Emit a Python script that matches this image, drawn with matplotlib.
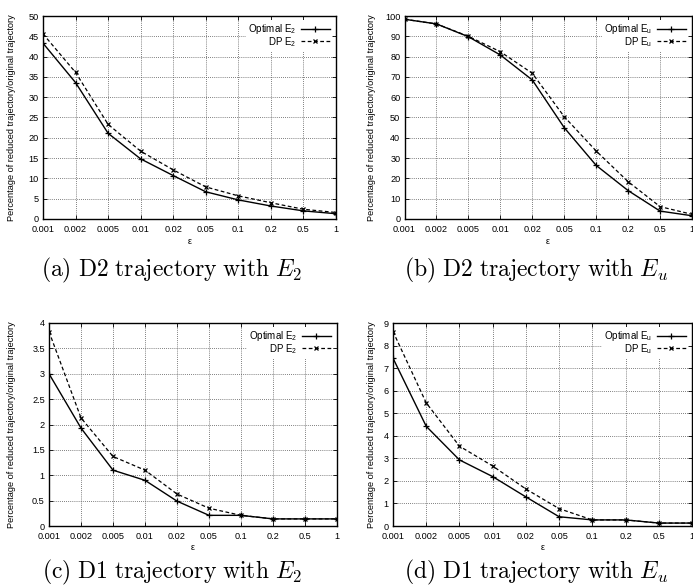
import numpy as np
import matplotlib
matplotlib.use('Agg')
import matplotlib.pyplot as plt

plt.rcParams['font.family'] = ['Liberation Sans', 'DejaVu Sans']
plt.rcParams['mathtext.fontset'] = 'custom'
plt.rcParams['mathtext.rm'] = 'Liberation Sans'
plt.rcParams['mathtext.it'] = 'Liberation Sans:italic'

# categories on the x axis (epsilon)
eps_labels = ['0.001', '0.002', '0.005', '0.01', '0.02', '0.05', '0.1', '0.2', '0.5', '1']

# (a) D2 with E2
d2_e2_opt = [43.3, 33.6, 21.1, 14.8, 10.7, 6.7, 4.7, 3.2, 2.0, 1.3]
d2_e2_dp = [45.6, 36.1, 23.3, 16.7, 12.1, 7.9, 5.7, 4.0, 2.4, 1.6]
# (b) D2 with Eu
d2_eu_opt = [98.4, 96.1, 89.8, 80.8, 68.5, 45.0, 26.4, 14.0, 3.9, 1.6]
d2_eu_dp = [98.4, 96.1, 90.0, 82.4, 71.8, 50.4, 33.5, 18.4, 6.1, 2.3]
# (c) D1 with E2
d1_e2_opt = [3.0, 1.93, 1.1, 0.9, 0.49, 0.21, 0.21, 0.14, 0.14, 0.14]
d1_e2_dp = [3.83, 2.13, 1.37, 1.1, 0.63, 0.35, 0.21, 0.14, 0.14, 0.14]
# (d) D1 with Eu
d1_eu_opt = [7.44, 4.42, 2.93, 2.19, 1.29, 0.41, 0.27, 0.27, 0.13, 0.13]
d1_eu_dp = [8.62, 5.46, 3.54, 2.66, 1.64, 0.77, 0.27, 0.27, 0.13, 0.13]

W, H = 693, 587
fig = plt.figure(figsize=(W / 100, H / 100), dpi=100)

# panel: (data_opt, data_dp, ymax, ystep, subscript, caption, axes box px [l, t, r, b], ylabel x px, caption pos px)
panels = [
    (d2_e2_opt, d2_e2_dp, 50, 5, '2', r'$\mathrm{(a)\ D2\ trajectory\ with\ }E_2$', [43, 16, 336, 219], 12, (172, 270)),
    (d2_eu_opt, d2_eu_dp, 100, 10, 'u', r'$\mathrm{(b)\ D2\ trajectory\ with\ }E_u$', [404.5, 16, 692, 219], 371, (536, 270)),
    (d1_e2_opt, d1_e2_dp, 4, 0.5, '2', r'$\mathrm{(c)\ D1\ trajectory\ with\ }E_2$', [49, 323, 337, 526], 12, (172, 572)),
    (d1_eu_opt, d1_eu_dp, 9, 1, 'u', r'$\mathrm{(d)\ D1\ trajectory\ with\ }E_u$', [393, 323, 692, 526], 371, (536, 572)),
]

x = np.arange(len(eps_labels))
for opt, dp, ymax, ystep, sub, cap, box, ylx, cpos in panels:
    l, t, r, b = box
    ax = fig.add_axes([l / W, 1 - b / H, (r - l) / W, (b - t) / H])
    ax.plot(x, opt, color='black', lw=1.0, marker='+', ms=5, mew=0.9,
            label='Optimal E$_\\mathrm{' + sub + '}$')
    ax.plot(x, dp, color='black', lw=0.9, ls=(0, (3, 2)), marker='x', ms=3.5, mew=0.9,
            label='DP E$_\\mathrm{' + sub + '}$')
    ax.set_xlim(0, len(eps_labels) - 1)
    ax.set_ylim(0, ymax)
    ax.set_xticks(x)
    ax.set_xticklabels(eps_labels)
    yt = np.arange(0, ymax + ystep / 2, ystep)
    ax.set_yticks(yt)
    ax.set_yticklabels([f'{v:g}' for v in yt])
    ax.tick_params(direction='in', length=3, width=0.6, labelsize=6.6,
                   top=True, right=True)
    ax.tick_params(axis='x', pad=4)
    ax.tick_params(axis='y', pad=3)
    ax.grid(True, color='#555555', ls=(0, (1, 1.5)), lw=0.6)
    for s in ax.spines.values():
        s.set_linewidth(1.0)
    ax.legend(loc='upper right', markerfirst=False, fontsize=7, frameon=True,
              fancybox=False, edgecolor='none', framealpha=1.0, borderpad=0.25,
              borderaxespad=0.4, handlelength=3.0, handletextpad=0.4, labelspacing=-0.15)
    fig.text(ylx / W, 1 - (t + b) / 2 / H, 'Percentage of reduced trajectory/original trajectory',
             rotation=90, ha='center', va='center', fontsize=6.6)
    fig.text((l + r) / 2 / W, 1 - (b + 22) / H, 'ε', ha='center', va='center', fontsize=6.6)
    fig.text(cpos[0] / W, 1 - cpos[1] / H, cap, ha='center', va='center', fontsize=17,
             math_fontfamily='cm')

fig.savefig('out.png', dpi=100)
